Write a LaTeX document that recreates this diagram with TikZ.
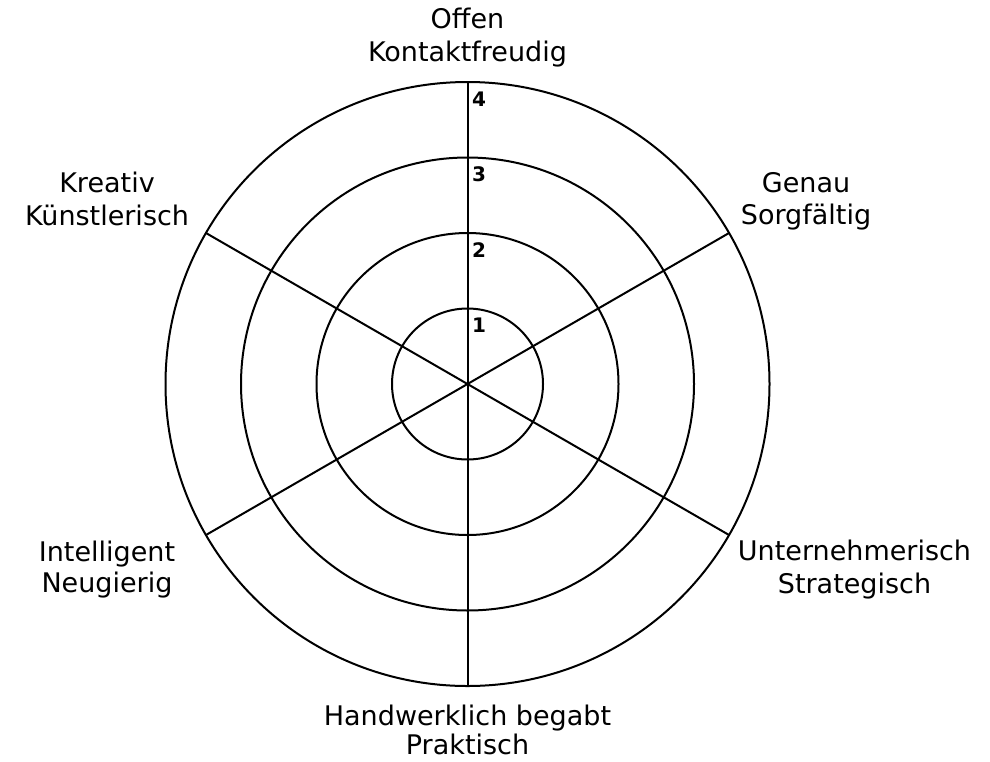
\documentclass[tikz,border=0pt]{standalone}
\usepackage{fontspec}
\setmainfont{DejaVu Sans}
\usetikzlibrary{calc}
\begin{document}
\begin{tikzpicture}[x=1pt,y=-1pt,
  ring/.style={draw=black,line width=2pt},
  spoke/.style={draw=black,line width=2pt},
  lbl/.style={inner sep=0pt,anchor=base,font=\fontsize{27}{32}\selectfont},
  num/.style={inner sep=0pt,anchor=base west,font=\fontsize{20}{22}\selectfont\bfseries}]
\useasboundingbox (0,0) rectangle (990,761);
\coordinate (c) at (467.5,384);
\foreach \r/\n in {75.5/1,151/2,226.5/3,302/4}{
  \draw[ring] (c) circle[radius=\r];
  \node[num] (n\n) at (472,384-\r+24) {\n};
}
\foreach \a/\nm in {90/b,30/br,-30/tr,-90/t,210/tl,150/bl}{
  \coordinate (e\nm) at ($(c)+(\a:302)$);
  \draw[spoke] (c) -- (e\nm);
}
\node[lbl] (t1) at (467.5,28) {Offen};
\node[lbl] (t2) at (467.5,61) {Kontaktfreudig};
\node[lbl] (tr1) at (806,192.7) {Genau};
\node[lbl] (tr2) at (806,224.5) {Sorgfältig};
\node[lbl] (tl1) at (107,192.7) {Kreativ};
\node[lbl] (tl2) at (107,225) {Künstlerisch};
\node[lbl] (bl1) at (107,561) {Intelligent};
\node[lbl] (bl2) at (107,592.7) {Neugierig};
\node[lbl] (br1) at (854.5,560) {Unternehmerisch};
\node[lbl] (br2) at (854.5,593) {Strategisch};
\node[lbl] (b1) at (467.5,725) {Handwerklich begabt};
\node[lbl] (b2) at (467.5,754) {Praktisch};
\end{tikzpicture}
\end{document}
